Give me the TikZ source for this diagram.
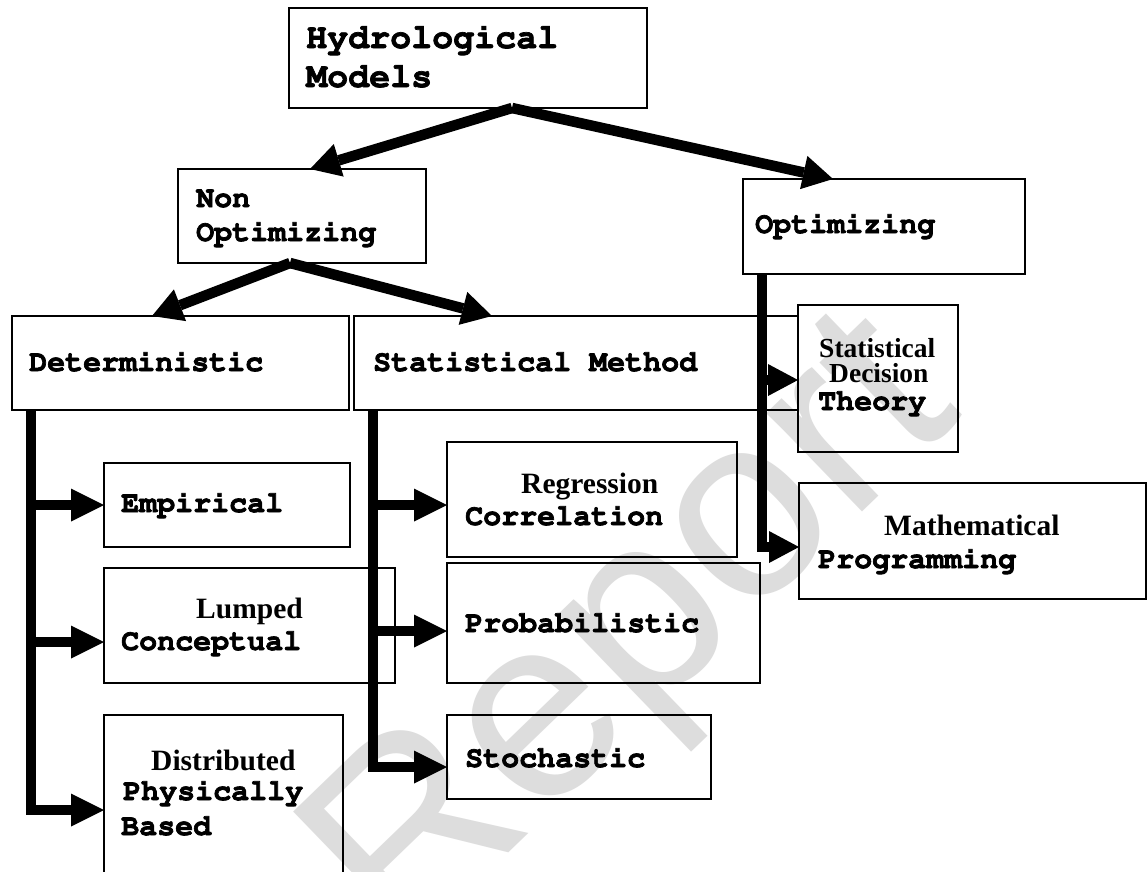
\documentclass[tikz,border=0pt]{standalone}
\usepackage[T1,TU]{fontenc}
\usepackage{fontspec}
\usetikzlibrary{arrows.meta}
\newfontfamily\timesface{Liberation Serif}
\newfontfamily\markface{Liberation Sans}
\newcommand\courbold{\fontencoding{T1}\fontfamily{pcr}\fontseries{b}\fontshape{n}\selectfont}
% heavier strokes for the typewriter labels (fill + thin outline)
\newcommand\heavyon{\special{pdf:literal direct 2 Tr 0.7 w}}
\newcommand\heavyoff{\special{pdf:literal direct 0 Tr}}
\definecolor{markgray}{RGB}{221,221,221}

\begin{document}
\begin{tikzpicture}[x=1pt,y=-1pt,
  box/.style={draw=black, line width=1.4pt, inner sep=0pt, outer sep=0pt, anchor=north west},
  mono/.style={font=\courbold\fontsize{30}{34}\selectfont, anchor=base west, inner sep=0pt,
    execute at begin node=\heavyon, execute at end node=\heavyoff},
  monobig/.style={mono, font=\courbold\fontsize{35}{39}\selectfont},
  serif/.style={font=\timesface\bfseries\fontsize{29.5}{32}\selectfont, anchor=base west, inner sep=0pt},
  serifsmall/.style={font=\timesface\bfseries\fontsize{27.5}{28}\selectfont, anchor=base west, inner sep=0pt},
  branch/.style={line width=10.5pt, -{Triangle[length=30pt,width=34pt,line width=0pt]}},
  feed/.style={line width=10pt, -{Triangle[length=33pt,width=33pt,line width=0pt]}},
  optfeed/.style={line width=10pt, -{Triangle[length=30pt,width=32pt,line width=0pt]}},
]
\useasboundingbox (0,0) rectangle (1147,871);
\fill[white] (0,0) rectangle (1147,871);
\clip (0,0) rectangle (1147,871);

% watermark behind the chart
\node[rotate=44, text=markgray, font=\markface\fontsize{260}{260}\selectfont, inner sep=0pt] (mark) at (640,640) {Report};

% boxes
\node[box, minimum width=358pt, minimum height=100pt] (hydro)  at (289,8)   {};
\node[box, minimum width=248pt, minimum height=94pt]  (nonopt) at (178,169) {};
\node[box, minimum width=282pt, minimum height=95pt]  (opt)    at (743,179) {};
\node[box, minimum width=337pt, minimum height=94pt]  (det)    at (12,316)  {};
\node[box, minimum width=444pt, minimum height=94pt]  (stat)   at (354,316) {};
\node[box, minimum width=160pt, minimum height=147pt] (sdt)    at (798,305) {};
\node[box, minimum width=246pt, minimum height=84pt]  (emp)    at (104,463) {};
\node[box, minimum width=291pt, minimum height=115pt] (lump)   at (104,568) {};
\node[box, minimum width=239pt, minimum height=200pt] (dist)   at (104,715) {};
\node[box, minimum width=290pt, minimum height=115pt] (reg)    at (447,442) {};
\node[box, minimum width=313pt, minimum height=120pt] (prob)   at (447,563) {};
\node[box, minimum width=264pt, minimum height=84pt]  (stoch)  at (447,715) {};
\node[box, minimum width=347pt, minimum height=116pt] (math)   at (799,483) {};

% branch points and trunk junctions
\coordinate (hsplit) at ([xshift=223pt]hydro.south west);
\coordinate (nsplit) at ([xshift=112pt]nonopt.south west);
\coordinate (dtop) at ([xshift=19pt]det.south west);
\coordinate (dj1) at (31,505);
\coordinate (dj2) at (31,642);
\coordinate (dj3) at (31,810);
\coordinate (stop) at ([xshift=19pt]stat.south west);
\coordinate (sj1) at (373,505);
\coordinate (sj2) at (373,631);
\coordinate (sj3) at (373,767);
\coordinate (otop) at ([xshift=19pt]opt.south west);
\coordinate (oj1) at (762,380);
\coordinate (oj2) at (762,547);

% top level branches
\draw[branch] (hsplit) -- ([xshift=132pt]nonopt.north west);
\draw[branch] (hsplit) -- ([xshift=90pt]opt.north west);
\draw[branch] (nsplit) -- ([xshift=140pt]det.north west);
\draw[branch] (nsplit) -- ([xshift=138pt]stat.north west);

% deterministic trunk
\draw[feed] (dtop) -- (dj3) -- (dist.west |- dj3);
\draw[feed] (dj1) -- (emp.west |- dj1);
\draw[feed] (dj2) -- (lump.west |- dj2);

% statistical trunk
\draw[feed] (stop) -- (sj3) -- (stoch.west |- sj3);
\draw[feed] (sj1) -- (reg.west |- sj1);
\draw[feed] (sj2) -- (prob.west |- sj2);

% optimizing trunk
\draw[optfeed] (otop) -- (oj2) -- (math.west |- oj2);
\draw[optfeed] (oj1) -- (sdt.west |- oj1);

% labels
\node[monobig] (hydro-a) at (306,48) {Hydrological};
\node[monobig] (hydro-b) at (306,87) {Models};
\node[mono] (nonopt-a) at (196,207) {Non};
\node[mono] (nonopt-b) at (196,241) {Optimizing};
\node[mono] (opt-a) at (755,233) {Optimizing};
\node[mono] (det-a) at (29,371) {Deterministic};
\node[mono] (stat-a) at (373,371) {Statistical Method};
\node[serifsmall] (sdt-a) at (819,357) {Statistical};
\node[serifsmall] (sdt-b) at (829,382) {Decision};
\node[mono] (sdt-c) at (818,410) {Theory};
\node[mono] (emp-a) at (121,512) {Empirical};
\node[serif] (lump-a) at (196,618) {Lumped};
\node[mono] (lump-b) at (121,650) {Conceptual};
\node[serif] (dist-a) at (151,770) {Distributed};
\node[mono] (dist-b) at (123,800) {Physically};
\node[mono] (dist-c) at (121,835) {Based};
\node[serif] (reg-a) at (521,493) {Regression};
\node[mono] (reg-b) at (465,525) {Correlation};
\node[mono] (prob-a) at (465,632) {Probabilistic};
\node[mono] (stoch-a) at (465,767) {Stochastic};
\node[serif] (math-a) at (884,535) {Mathematical};
\node[mono] (math-b) at (818,568) {Programming};
\end{tikzpicture}
\end{document}
